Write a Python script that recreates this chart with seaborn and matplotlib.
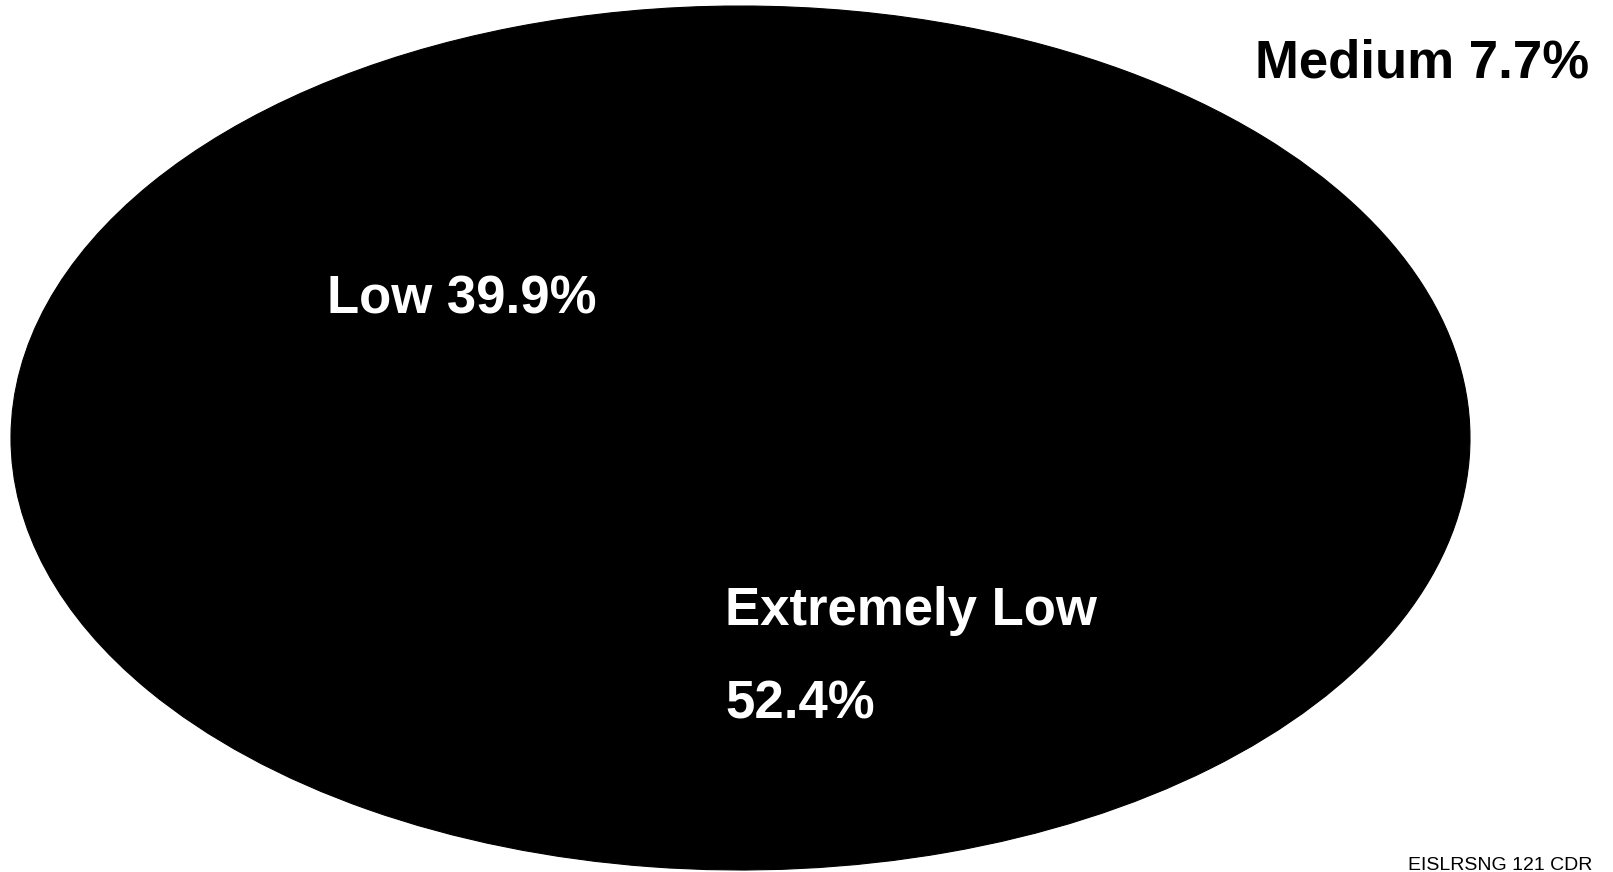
import matplotlib
matplotlib.use("Agg")
import matplotlib.pyplot as plt
import seaborn as sns

# ---- data ----
categories = ["Medium", "Low", "Extremely Low"]
shares = [7.7, 39.9, 52.4]
wedge_colors = ["#000000", "#000000", "#000000"]
footer_text = "EISLRSNG 121 CDR"

sns.set_theme(style="white")
plt.rcParams["font.family"] = ["Liberation Sans", "DejaVu Sans"]

W, H, DPI = 1613, 872, 100
fig = plt.figure(figsize=(W / DPI, H / DPI), dpi=DPI)
fig.patch.set_facecolor("white")

# ellipse bounding box in pixels
left_px, right_px, top_px, bottom_px = 11, 1470, 6, 870
ax = fig.add_axes([left_px / W, (H - bottom_px) / H,
                   (right_px - left_px) / W, (bottom_px - top_px) / H])
ax.pie(shares, colors=wedge_colors, startangle=44.4, counterclock=True,
       radius=1.0, wedgeprops=dict(edgecolor="#000000", linewidth=0.8))
ax.set_aspect("auto")
ax.set_xlim(-1, 1)
ax.set_ylim(-1, 1)
ax.axis("off")

def fx(px):
    return px / W

def fy(py):
    return 1 - py / H

lab = {c: f"{c} {v}%" for c, v in zip(categories, shares)}

fig.text(fx(1255), fy(78), lab["Medium"], color="black", fontsize=38,
         fontweight="bold", ha="left", va="baseline")
fig.text(fx(327), fy(313), lab["Low"], color="white", fontsize=38,
         fontweight="bold", ha="left", va="baseline")
fig.text(fx(725), fy(625), categories[2], color="white", fontsize=38,
         fontweight="bold", ha="left", va="baseline")
fig.text(fx(725), fy(718), f"{shares[2]}%", color="white", fontsize=38,
         fontweight="bold", ha="left", va="baseline")
fig.text(fx(1408), fy(870), footer_text, color="black", fontsize=14,
         ha="left", va="baseline")

fig.savefig("out.png", dpi=DPI, facecolor="white")
